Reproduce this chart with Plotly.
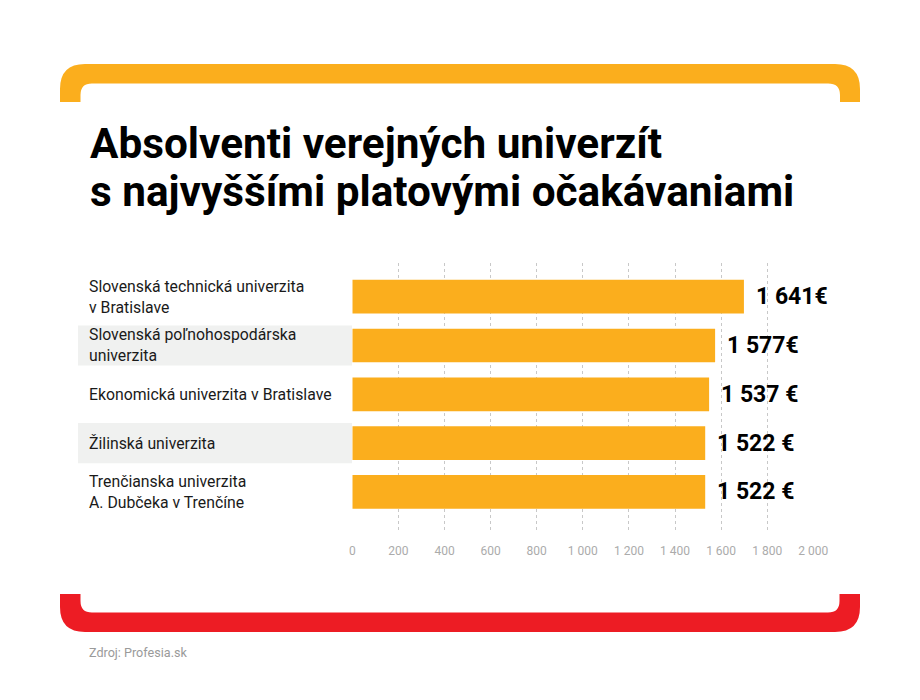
import plotly.graph_objects as go

# ---- data ----
universities = [
    "Slovenská technická univerzita<br>v Bratislave",
    "Slovenská poľnohospodárska<br>univerzita",
    "Ekonomická univerzita v Bratislave",
    "Žilinská univerzita",
    "Trenčianska univerzita<br>A. Dubčeka v Trenčíne",
]
# bar lengths as drawn in the picture
bar_values = [1699, 1574, 1548, 1531, 1531]
value_labels = ["1 641€", "1 577€", "1 537 €", "1 522 €", "1 522 €"]
tick_vals = [0, 200, 400, 600, 800, 1000, 1200, 1400, 1600, 1800, 2000]
tick_text = ["0", "200", "400", "600", "800", "1 000", "1 200", "1 400", "1 600", "1 800", "2 000"]
title_lines = ["Absolventi verejných univerzít", "s najvyššími platovými očakávaniami"]
source_text = "Zdroj: Profesia.sk"

W, H = 920, 700
ORANGE = "#FBAE1D"
RED = "#ED1C24"


def px(x):
    return x / W


def py(y):
    return 1 - y / H


def path_px(points):
    out = []
    for p in points:
        cmd = p[0]
        vals = p[1:]
        conv = []
        for i in range(0, len(vals), 2):
            conv.append(f"{px(vals[i]):.5f},{py(vals[i+1]):.5f}")
        out.append(cmd + " ".join(conv))
    return " ".join(out) + " Z"


ypos = list(range(len(universities)))

fig = go.Figure()
fig.add_trace(go.Bar(
    x=bar_values, y=ypos, orientation="h",
    marker=dict(color=ORANGE, line=dict(width=0)),
    width=0.69, hoverinfo="skip", showlegend=False,
))

shapes = []
for i in (1, 3):
    shapes.append(dict(type="rect", xref="paper", yref="y",
                       x0=px(78), x1=px(352), y0=i - 0.41, y1=i + 0.41,
                       fillcolor="#F0F1F0", line=dict(width=0), layer="below"))

top = path_px([
    ("M", 60, 102), ("L", 60, 89), ("Q", 60, 64, 85, 64), ("L", 835, 64),
    ("Q", 860, 64, 860, 89), ("L", 860, 102), ("L", 840, 102), ("L", 840, 95),
    ("Q", 840, 83.5, 828, 83.5), ("L", 92, 83.5), ("Q", 80.5, 83.5, 80.5, 95),
    ("L", 80.5, 102),
])
shapes.append(dict(type="path", xref="paper", yref="paper", path=top,
                   fillcolor=ORANGE, line=dict(width=0)))
bottom = path_px([
    ("M", 60, 594), ("L", 60, 607), ("Q", 60, 632, 85, 632), ("L", 835, 632),
    ("Q", 860, 632, 860, 607), ("L", 860, 594), ("L", 839.5, 594), ("L", 839.5, 601),
    ("Q", 839.5, 612.5, 828, 612.5), ("L", 92, 612.5), ("Q", 80.5, 612.5, 80.5, 601),
    ("L", 80.5, 594),
])
shapes.append(dict(type="path", xref="paper", yref="paper", path=bottom,
                   fillcolor=RED, line=dict(width=0)))

annotations = []
for i, name in enumerate(universities):
    annotations.append(dict(
        xref="paper", yref="y", x=px(87), y=i, xanchor="left", yanchor="middle",
        text=name, showarrow=False, align="left",
        font=dict(family="Roboto", size=15.8, color="#1a1a1a"),
    ))
for i, (v, lab) in enumerate(zip(bar_values, value_labels)):
    annotations.append(dict(
        xref="x", yref="y", x=v, y=i, xanchor="left", yanchor="middle",
        xshift=10, text=lab, showarrow=False,
        font=dict(family="Roboto", size=23, color="#000000", weight="bold"),
    ))
for k, line in enumerate(title_lines):
    annotations.append(dict(
        xref="paper", yref="paper", x=px(88), y=py(143 + 49 * k), xanchor="left",
        yanchor="middle", text=line, showarrow=False, align="left",
        font=dict(family="Roboto", size=42.3, color="#000000", weight="bold"),
    ))
annotations.append(dict(
    xref="paper", yref="paper", x=px(87), y=py(652), xanchor="left", yanchor="middle",
    text=source_text, showarrow=False,
    font=dict(family="Roboto", size=12.6, color="#9a9a9a"),
))

fig.update_layout(
    width=W, height=H,
    margin=dict(l=0, r=0, t=0, b=0, autoexpand=False),
    paper_bgcolor="white", plot_bgcolor="rgba(0,0,0,0)",
    shapes=shapes, annotations=annotations,
    xaxis=dict(domain=[px(352.3), px(813.3)], range=[0, 2000],
               tickvals=tick_vals, ticktext=tick_text, automargin=False,
               showgrid=True, gridcolor="#c8c8c8", griddash="dot", gridwidth=1,
               zeroline=False, showline=False, ticks="",
               ticklabelstandoff=12,
               tickfont=dict(family="Roboto", size=12, color="#ababab"),
               fixedrange=True),
    yaxis=dict(domain=[py(530), py(263)], range=[4.78, -0.69], automargin=False,
               showticklabels=False, showgrid=False, zeroline=False,
               showline=False, ticks="", fixedrange=True),
)

fig.write_html(
    "out.html",
    config={"displayModeBar": False},
    post_script="document.body.style.margin='0';document.body.style.overflow='hidden';",
)
